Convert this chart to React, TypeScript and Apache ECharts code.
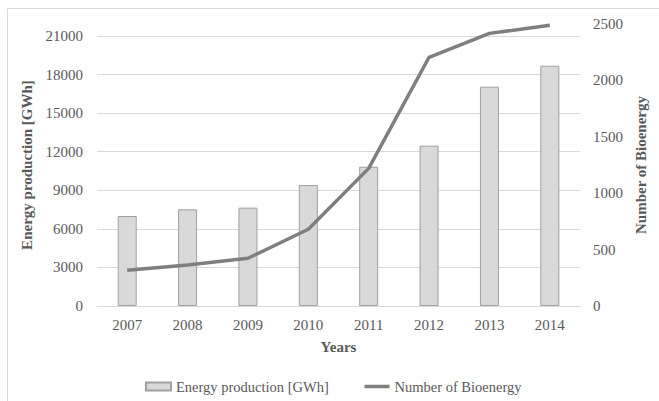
import React, { useEffect, useRef } from "react";
import * as echarts from "echarts";

const years = ["2007", "2008", "2009", "2010", "2011", "2012", "2013", "2014"];
const energyProduction = [7000, 7520, 7650, 9410, 10830, 12470, 17060, 18690];
const bioenergyCount = [316, 363, 423, 680, 1220, 2205, 2417, 2488];

const FONT = "Liberation Serif";
const TXT = "#595959";

export default function App() {
  const ref = useRef<HTMLDivElement>(null);
  useEffect(() => {
    if (!ref.current) return;
    const chart = echarts.init(ref.current, undefined, { renderer: "svg" });
    chart.setOption({
      animation: false,
      backgroundColor: "#ffffff",
      textStyle: { fontFamily: FONT },
      graphic: [
        { type: "line", shape: { x1: 7.5, y1: 8.5, x2: 659, y2: 8.5 }, style: { stroke: "#d9d9d9", lineWidth: 1 } },
        { type: "line", shape: { x1: 7.5, y1: 8.5, x2: 7.5, y2: 401 }, style: { stroke: "#d9d9d9", lineWidth: 1 } },
      ],
      grid: { left: 97, right: 79, top: 24, bottom: 95 },
      legend: {
        left: 140,
        top: 374,
        itemWidth: 25,
        itemHeight: 8,
        itemGap: 34,
        textStyle: { fontFamily: FONT, fontSize: 14.5, color: TXT },
        data: [
          { name: "Energy production [GWh]", icon: "rect" },
          {
            name: "Number of Bioenergy",
            itemStyle: { opacity: 0 },
            lineStyle: { color: "#7f7f7f", width: 3.5, opacity: 1 },
          },
        ],
      },
      xAxis: {
        type: "category",
        data: years,
        name: "Years",
        nameLocation: "middle",
        nameGap: 33,
        nameTextStyle: { fontFamily: FONT, fontSize: 15, fontWeight: "bold", color: TXT },
        axisLine: { show: true, lineStyle: { color: "#d9d9d9", width: 1 } },
        axisTick: { show: false },
        axisLabel: { fontFamily: FONT, fontSize: 15, color: TXT, margin: 11 },
      },
      yAxis: [
        {
          type: "value",
          min: 0,
          max: 21934,
          interval: 3000,
          name: "Energy production [GWh]",
          nameLocation: "middle",
          nameGap: 58,
          nameRotate: 90,
          nameTextStyle: { fontFamily: FONT, fontSize: 15, fontWeight: "bold", color: TXT },
          axisLine: { show: false },
          axisTick: { show: false },
          axisLabel: {
            fontFamily: FONT,
            fontSize: 15,
            color: TXT,
            margin: 14,
            showMaxLabel: false,
            formatter: (v: number) => (v % 3000 === 0 ? String(v) : ""),
          },
          splitLine: { show: true, showMaxLine: false, lineStyle: { color: "#d9d9d9", width: 1 } },
        },
        {
          type: "value",
          position: "right",
          min: 0,
          max: 2500,
          interval: 500,
          name: "Number of Bioenergy",
          nameLocation: "middle",
          nameGap: 48,
          nameRotate: 90,
          nameTextStyle: { fontFamily: FONT, fontSize: 15, fontWeight: "bold", color: TXT },
          axisLine: { show: false },
          axisTick: { show: false },
          axisLabel: {
            fontFamily: FONT,
            fontSize: 15,
            color: TXT,
            margin: 13,
            formatter: (v: number) => String(v),
          },
          splitLine: { show: false },
        },
      ],
      series: [
        {
          name: "Energy production [GWh]",
          type: "bar",
          yAxisIndex: 0,
          data: energyProduction,
          barWidth: 19,
          itemStyle: { color: "#d9d9d9", borderColor: "#a0a0a0", borderWidth: 1 },
        },
        {
          name: "Number of Bioenergy",
          type: "line",
          yAxisIndex: 1,
          data: bioenergyCount,
          symbol: "none",
          lineStyle: { color: "#7f7f7f", width: 3.5 },
          itemStyle: { color: "#7f7f7f" },
        },
      ],
    });
    return () => chart.dispose();
  }, []);
  return (
    <div
      ref={ref}
      style={{ position: "absolute", left: 0, top: 0, width: 659, height: 401 }}
    />
  );
}
